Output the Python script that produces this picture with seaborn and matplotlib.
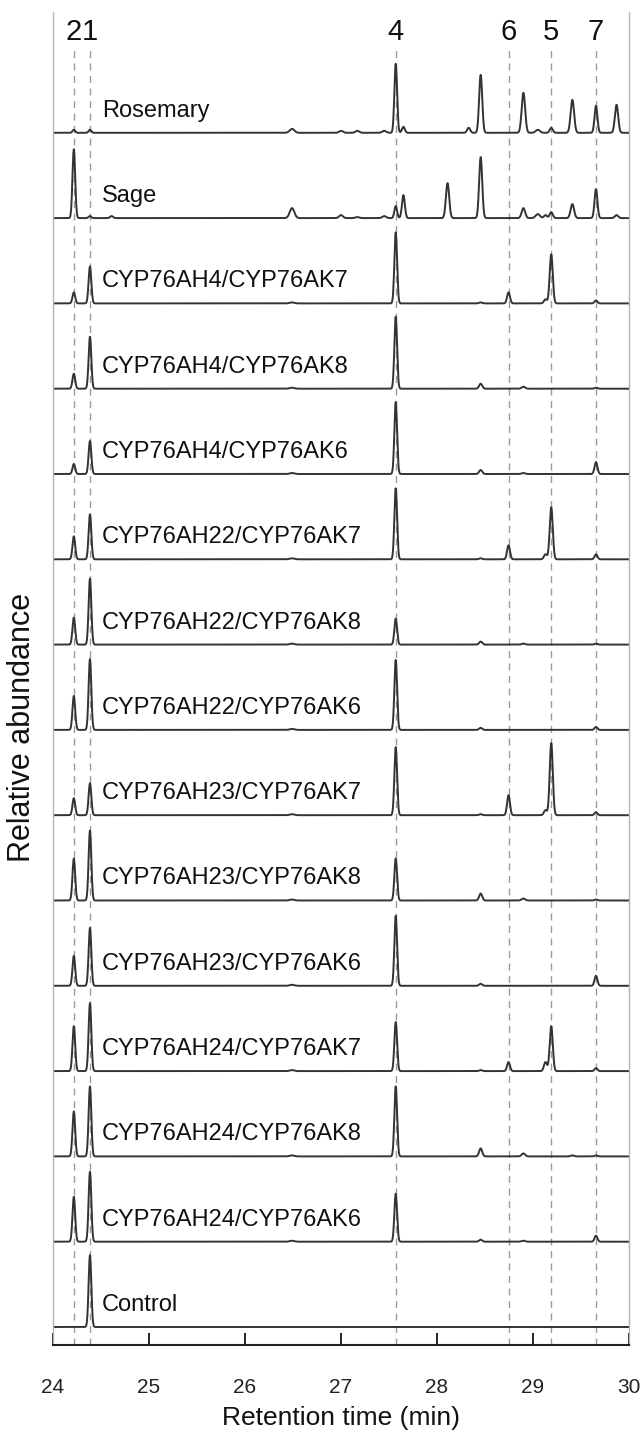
import numpy as np
import pandas as pd
import matplotlib
matplotlib.use("Agg")
import matplotlib.pyplot as plt
import seaborn as sns

sns.set_theme(style="white")
plt.rcParams["font.family"] = ["Liberation Sans", "DejaVu Sans"]

# Samples, stacked from top to bottom
samples = [
    "Rosemary", "Sage",
    "CYP76AH4/CYP76AK7", "CYP76AH4/CYP76AK8", "CYP76AH4/CYP76AK6",
    "CYP76AH22/CYP76AK7", "CYP76AH22/CYP76AK8", "CYP76AH22/CYP76AK6",
    "CYP76AH23/CYP76AK7", "CYP76AH23/CYP76AK8", "CYP76AH23/CYP76AK6",
    "CYP76AH24/CYP76AK7", "CYP76AH24/CYP76AK8", "CYP76AH24/CYP76AK6",
    "Control",
]

# Marked compounds and their retention times (min)
compound_names = ["2", "1", "4", "6", "5", "7"]
compound_rt = [24.217, 24.385, 27.57, 28.745, 29.19, 29.656]

# Peak retention times (min) and peak widths (sigma, min)
peak_rt = [24.217, 24.385, 24.61, 26.49, 27.0, 27.17, 27.45, 27.57, 27.65,
           28.11, 28.33, 28.455, 28.745, 28.9, 29.05, 29.13, 29.19, 29.41,
           29.656, 29.87]
peak_sigma = [0.014, 0.014, 0.016, 0.024, 0.02, 0.02, 0.02, 0.014, 0.015,
              0.017, 0.016, 0.016, 0.015, 0.018, 0.022, 0.016, 0.016, 0.018,
              0.015, 0.017]

# Peak heights per sample (same order as samples)
h_2 = [3, 69, 11, 15, 10, 23, 27, 34, 17, 42, 30, 45, 45, 45, 0]
h_1 = [3, 2, 37, 52, 33, 45, 66, 71, 32, 70, 58, 68, 70, 70, 72]
h_2461 = [0, 2, 0, 0, 0, 0, 0, 0, 0, 0, 0, 0, 0, 0, 0]
h_2649 = [4, 10, 1, 1, 1, 1, 1, 1, 1, 1, 1, 1, 1, 1, 0]
h_2700 = [2, 3, 0, 0, 0, 0, 0, 0, 0, 0, 0, 0, 0, 0, 0]
h_2717 = [2, 1, 0, 0, 0, 0, 0, 0, 0, 0, 0, 0, 0, 0, 0]
h_2745 = [2, 2, 0, 0, 0, 0, 0, 0, 0, 0, 0, 0, 0, 0, 0]
h_4 = [69, 12, 71, 72, 72, 71, 26, 70, 68, 42, 70, 49, 70, 48, 0]
h_2765 = [6, 23, 0, 0, 0, 0, 0, 0, 0, 0, 0, 0, 0, 0, 0]
h_2811 = [0, 35, 0, 0, 0, 0, 0, 0, 0, 0, 0, 0, 0, 0, 0]
h_2833 = [5, 0, 0, 0, 0, 0, 0, 0, 0, 0, 0, 0, 0, 0, 0]
h_2846 = [58, 61, 1, 5, 4, 1, 3, 2, 1, 7, 2, 1, 8, 2, 0]
h_6 = [0, 0, 11, 0, 0, 14, 0, 0, 20, 0, 0, 9, 0, 0, 0]
h_2890 = [40, 10, 0, 2, 1, 0, 1, 0, 0, 2, 0, 0, 3, 1, 0]
h_2905 = [3, 4, 0, 0, 0, 0, 0, 0, 0, 0, 0, 0, 0, 0, 0]
h_2913 = [0, 3, 4, 0, 0, 5, 0, 0, 5, 0, 0, 9, 0, 0, 0]
h_5 = [5, 6, 49, 0, 0, 52, 0, 0, 72, 0, 0, 45, 0, 0, 0]
h_2941 = [33, 14, 0, 0, 0, 0, 0, 0, 0, 0, 0, 0, 1, 0, 0]
h_7 = [27, 29, 3, 1, 12, 5, 1, 3, 3, 1, 10, 3, 1, 6, 0]
h_2987 = [28, 3, 0, 0, 0, 0, 0, 0, 0, 0, 0, 0, 0, 0, 0]

peak_heights = [h_2, h_1, h_2461, h_2649, h_2700, h_2717, h_2745, h_4, h_2765,
                h_2811, h_2833, h_2846, h_6, h_2890, h_2905, h_2913, h_5, h_2941,
                h_7, h_2987]

spacing = 85.3
time = np.linspace(24.0, 30.0, 3001)

frames = []
n = len(samples)
for i, name in enumerate(samples):
    offset = (n - 1 - i) * spacing
    signal = np.zeros_like(time)
    for rt, sig, hs in zip(peak_rt, peak_sigma, peak_heights):
        signal += hs[i] * np.exp(-0.5 * ((time - rt) / sig) ** 2)
    frames.append(pd.DataFrame({"time": time, "signal": signal + offset, "sample": name}))
df = pd.concat(frames, ignore_index=True)

W, H = 644, 1439
fig = plt.figure(figsize=(W / 100, H / 100), dpi=100)
ax = fig.add_axes([53 / W, 94 / H, 576 / W, 1333 / H])

ymin, ymax = -18, 1315
ax.vlines(compound_rt, ymin, 1279, colors="#9a9a9a", linestyles=(0, (5, 4)), linewidth=1.0, zorder=1)

sns.lineplot(data=df, x="time", y="signal", units="sample", estimator=None,
             color="#333333", linewidth=1.4, sort=False, ax=ax, zorder=2)

for i, name in enumerate(samples):
    offset = (n - 1 - i) * spacing
    ax.text(24.51, offset + 22, name, fontsize=17, va="center", ha="left", color="#111111")

for name, rt in zip(compound_names, compound_rt):
    ax.text(rt, 1295, name, fontsize=21, ha="center", va="center", color="#111111")

ax.set_xlim(24, 30)
ax.set_ylim(ymin, ymax)
ax.set_xticks(range(24, 31))
ax.set_yticks([])
ax.set_xlabel("")
ax.set_ylabel("")
ax.tick_params(axis="x", direction="in", length=9, width=1.2, color="black",
               pad=24, labelsize=15, labelcolor="#222222", bottom=True)
ax.spines["top"].set_visible(False)
ax.spines["bottom"].set_color("#222222")
ax.spines["bottom"].set_linewidth(1.5)
for side in ("left", "right"):
    ax.spines[side].set_color("#b5b5b5")
    ax.spines[side].set_linewidth(1.0)

fig.text(341 / W, 1 - 1418 / H, "Retention time (min)", fontsize=19, ha="center", va="center", color="#111111")
fig.text(22 / W, 1 - 727 / H, "Relative abundance", fontsize=22, rotation=90, ha="center", va="center", color="#111111")

fig.savefig("out.png", dpi=100)
